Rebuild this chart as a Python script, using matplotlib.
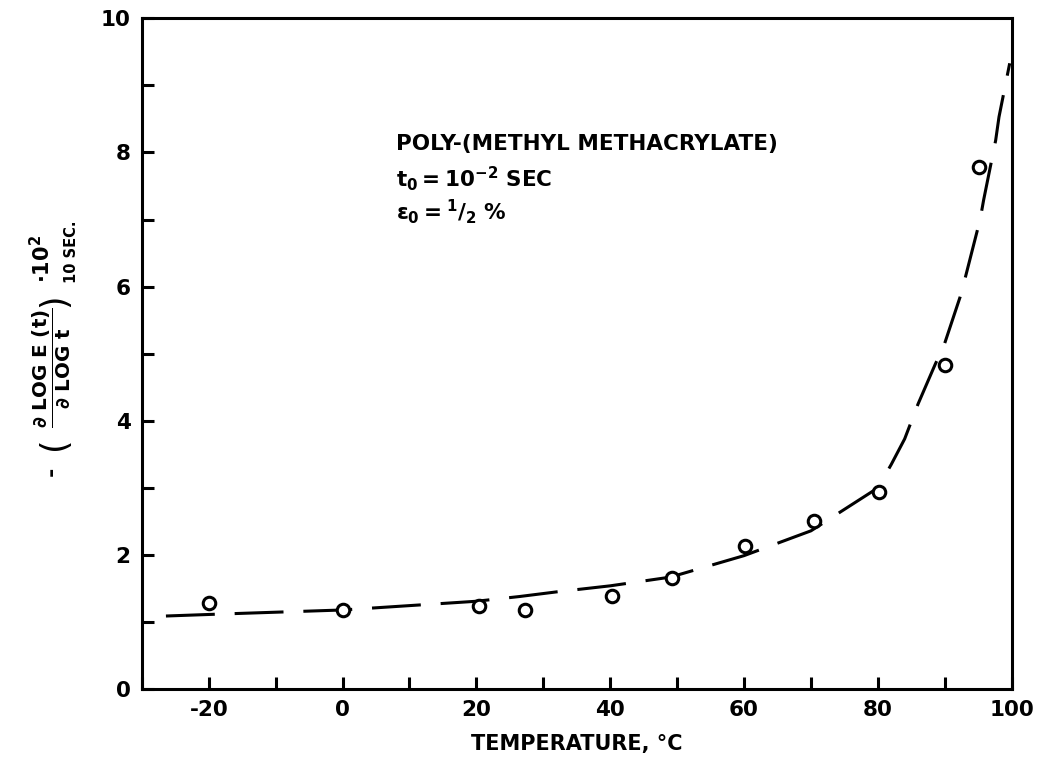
import numpy as np
import matplotlib
matplotlib.use("Agg")
import matplotlib.pyplot as plt

# measured points (open circles)
temp_pts = [-20, 0, 20.4, 27.3, 40.2, 49.2, 60.1, 70.4, 80.1, 90.0, 95.1]
slope_pts = [1.29, 1.18, 1.24, 1.18, 1.39, 1.65, 2.13, 2.51, 2.94, 4.83, 7.79]

# dashed curve
temp_curve = [-26.4, -18, 0, 20, 26.4, 32, 40, 49, 60, 70, 80, 82, 84, 86,
              88.6, 89.8, 92.3, 93.1, 95.3, 95.8, 97.6, 98.1, 99.7]
slope_curve = [1.09, 1.12, 1.18, 1.31, 1.38, 1.45, 1.54, 1.67, 1.99, 2.36, 3.0,
               3.35, 3.73, 4.25, 4.85, 5.10, 5.85, 6.15, 7.01, 7.29, 8.18, 8.53, 9.33]

plt.rcParams["font.family"] = "DejaVu Sans"
plt.rcParams["font.weight"] = "bold"
plt.rcParams["axes.unicode_minus"] = False
plt.rcParams["mathtext.fontset"] = "custom"
plt.rcParams["mathtext.rm"] = "DejaVu Sans:bold"
plt.rcParams["mathtext.it"] = "DejaVu Sans:bold"
plt.rcParams["mathtext.bf"] = "DejaVu Sans:bold"

W, H = 1043, 764
fig = plt.figure(figsize=(W / 100, H / 100), dpi=100)
ax = fig.add_axes([0.136, 0.098, 0.834, 0.878])

lw = 2.2
ax.plot(temp_curve, slope_curve, color="black", lw=lw,
        linestyle=(0, (16, 6.5)), solid_capstyle="butt")
ax.plot(temp_pts, slope_pts, "o", mfc="white", mec="black", ms=9, mew=2.2,
        linestyle="none")

ax.set_xlim(-30, 100)
ax.set_ylim(0, 10)
ax.set_xticks(np.arange(-20, 101, 20))
ax.set_xticks(np.arange(-30, 101, 10), minor=True)
ax.set_yticks(np.arange(0, 11, 2))
ax.set_yticks(np.arange(1, 10, 2), minor=True)

for s in ax.spines.values():
    s.set_linewidth(lw)
ax.tick_params(which="both", direction="in", length=8.5, width=lw,
               top=False, right=False, labelsize=15.5, pad=8)

ax.set_xlabel("TEMPERATURE, °C", fontsize=15, fontweight="bold", labelpad=10)


# y label built from pieces (pixel positions in the figure)
def ytext(px, py, s, size, weight="bold"):
    fig.text(px / W, 1 - py / H, s, rotation=90, ha="center", va="center",
             fontsize=size, fontweight=weight)


ytext(52, 471, "-", 16)
ytext(54, 443, "(", 25, "normal")
ytext(52, 368, r"$\dfrac{\partial\ LOG\ E\ (t)}{\partial\ LOG\ t}$", 14.3)
ytext(54, 300, ")", 25, "normal")
ytext(42, 259, r"$\cdot 10^{2}$", 15)
ytext(72, 252, "10 SEC.", 10.5)

ax.text(8.0, 8.28, "POLY-(METHYL METHACRYLATE)", fontsize=15.5,
        fontweight="bold", ha="left", va="top")
ax.text(8.0, 7.82, r"$t_0 = 10^{-2}$ SEC", fontsize=15.5,
        fontweight="bold", ha="left", va="top")
ax.text(8.0, 7.34, r"$\epsilon_0 = {}^{1}/_{2}$ %", fontsize=15.5,
        fontweight="bold", ha="left", va="top")

fig.savefig("out.png", dpi=100)
